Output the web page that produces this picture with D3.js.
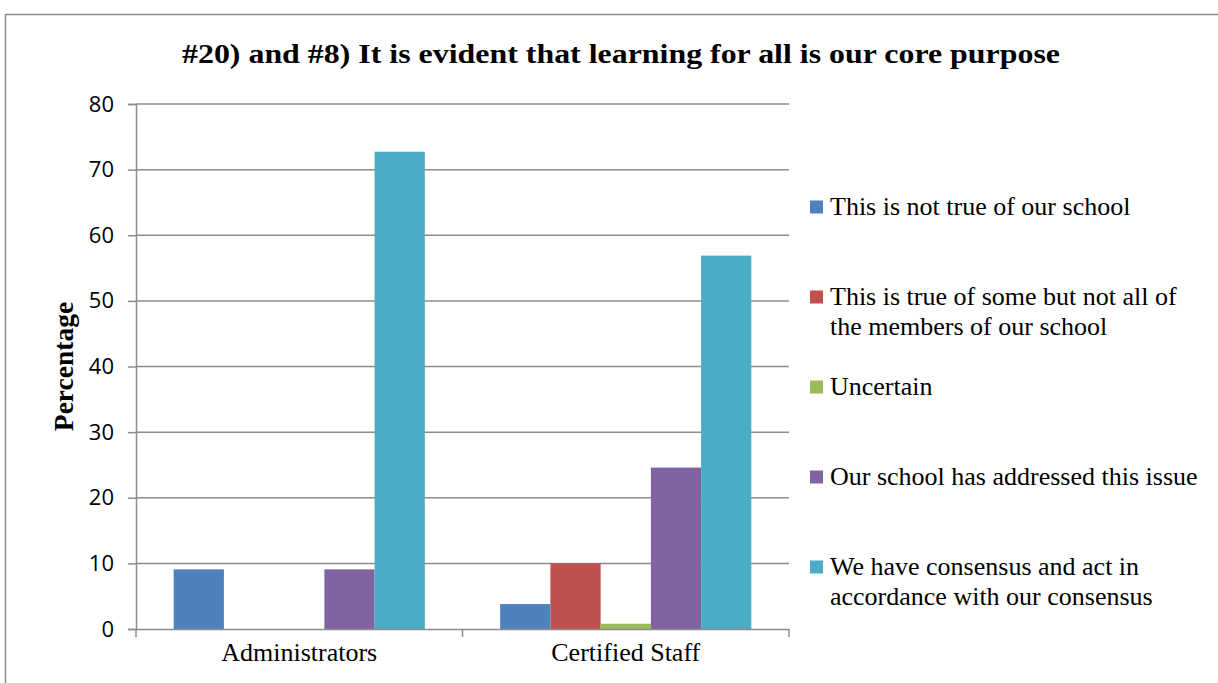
<!DOCTYPE html>
<html>
<head>
<meta charset="utf-8">
<script src="https://cdn.jsdelivr.net/npm/d3@7"></script>
<style>
  html, body { margin: 0; padding: 0; background: #fff; }
  svg { display: block; }
</style>
</head>
<body>
<svg id="chart" width="1218" height="683"></svg>
<script>
// Survey responses, percentage of respondents per group
const groups = ["Administrators", "Certified Staff"];
const responses = [
  "This is not true of our school",
  "This is true of some but not all of the members of our school",
  "Uncertain",
  "Our school has addressed this issue",
  "We have consensus and act in accordance with our consensus"
];
const legendLines = [
  ["This is not true of our school"],
  ["This is true of some but not all of", "the members of our school"],
  ["Uncertain"],
  ["Our school has addressed this issue"],
  ["We have consensus and act in", "accordance with our consensus"]
];
const administratorsValues = [9.09, 0, 0, 9.09, 72.73];
const certifiedStaffValues = [3.8, 10.0, 0.8, 24.6, 56.9];
const yTicks = [0, 10, 20, 30, 40, 50, 60, 70, 80];
const colors = ["#4F81BD", "#C0504D", "#9BBB59", "#8064A2", "#4BACC6"];

const valuesByGroup = [administratorsValues, certifiedStaffValues];

const svg = d3.select("#chart");
const serif = "'Liberation Serif', 'Times New Roman', serif";
const sans = "'Open Sans', 'Liberation Sans', sans-serif";
const gridColor = "#8c8c8c";

// Outer chart frame
svg.append("path")
  .attr("d", "M5.5,683 L5.5,14.5 L1218,14.5")
  .attr("fill", "none")
  .attr("stroke", "#8c8c8c")
  .attr("stroke-width", 1.5);

// Title
svg.append("text")
  .attr("x", 182).attr("y", 63)
  .attr("font-family", serif)
  .attr("font-weight", "bold")
  .attr("font-size", 28)
  .attr("textLength", 878)
  .attr("lengthAdjust", "spacingAndGlyphs")
  .text("#20) and #8) It is evident that learning for all is our core purpose");

const plot = { left: 136, right: 789, top: 104, bottom: 629 };

const x0 = d3.scaleBand().domain(groups).range([plot.left, plot.right]).paddingInner(0).paddingOuter(0);
const x1 = d3.scaleBand().domain(d3.range(responses.length))
  .range([0, x0.bandwidth()]).paddingOuter(0.75).paddingInner(0);
const y = d3.scaleLinear().domain([0, 80]).range([plot.bottom, plot.top]);

// Horizontal gridlines
svg.append("g").selectAll("line")
  .data(yTicks.filter(t => t > 0))
  .join("line")
  .attr("x1", plot.left).attr("x2", plot.right)
  .attr("y1", d => y(d)).attr("y2", d => y(d))
  .attr("stroke", gridColor).attr("stroke-width", 1.5);

// Bars
const gGroups = svg.append("g").selectAll("g")
  .data(groups)
  .join("g")
  .attr("transform", d => `translate(${x0(d)},0)`);

gGroups.selectAll("rect")
  .data((g, gi) => valuesByGroup[gi].map((v, i) => ({ v, i })))
  .join("rect")
  .filter(d => d.v > 0)
  .attr("x", d => x1(d.i))
  .attr("width", x1.bandwidth())
  .attr("y", d => y(d.v))
  .attr("height", d => y(0) - y(d.v))
  .attr("fill", d => colors[d.i]);

// Y axis
const yAxis = d3.axisLeft(y).tickValues(yTicks).tickSize(8).tickPadding(14);
const gy = svg.append("g").attr("transform", `translate(${plot.left},0)`).call(yAxis);
gy.select(".domain").attr("stroke", gridColor).attr("stroke-width", 1.5);
gy.selectAll(".tick line").attr("stroke", gridColor).attr("stroke-width", 1.5);
gy.selectAll(".tick text")
  .attr("font-family", sans).attr("font-size", 22).attr("fill", "#000");

// X axis (category separators as ticks)
const xAxis = d3.axisBottom(x0).tickSize(0).tickPadding(14);
const gx = svg.append("g").attr("transform", `translate(0,${plot.bottom})`).call(xAxis);
gx.select(".domain").attr("stroke", gridColor).attr("stroke-width", 1.5);
gx.selectAll(".tick text")
  .attr("font-family", serif).attr("font-size", 26).attr("fill", "#000")
  .attr("dy", "0.71em");
const bounds = [plot.left, x0(groups[1]), plot.right];
svg.append("g").selectAll("line").data(bounds).join("line")
  .attr("x1", d => d).attr("x2", d => d)
  .attr("y1", plot.bottom).attr("y2", plot.bottom + 8)
  .attr("stroke", gridColor).attr("stroke-width", 1.5);

// Y axis title
svg.append("text")
  .attr("transform", `translate(73,${(plot.top + plot.bottom) / 2}) rotate(-90)`)
  .attr("text-anchor", "middle")
  .attr("font-family", serif)
  .attr("font-weight", "bold")
  .attr("font-size", 27.5)
  .text("Percentage");

// Legend
const legend = svg.append("g").attr("transform", "translate(810,207)");
const items = legend.selectAll("g").data(responses).join("g")
  .attr("transform", (d, i) => `translate(0,${i * 90})`);
items.append("rect")
  .attr("x", 0).attr("y", -6.5).attr("width", 13).attr("height", 13)
  .attr("fill", (d, i) => colors[i]);
items.append("text")
  .attr("x", 20).attr("y", 8)
  .attr("font-family", serif).attr("font-size", 26).attr("fill", "#000")
  .selectAll("tspan")
  .data((d, i) => legendLines[i])
  .join("tspan")
  .attr("x", 20)
  .attr("dy", (d, j) => j === 0 ? 0 : 30)
  .text(d => d);
</script>
</body>
</html>
